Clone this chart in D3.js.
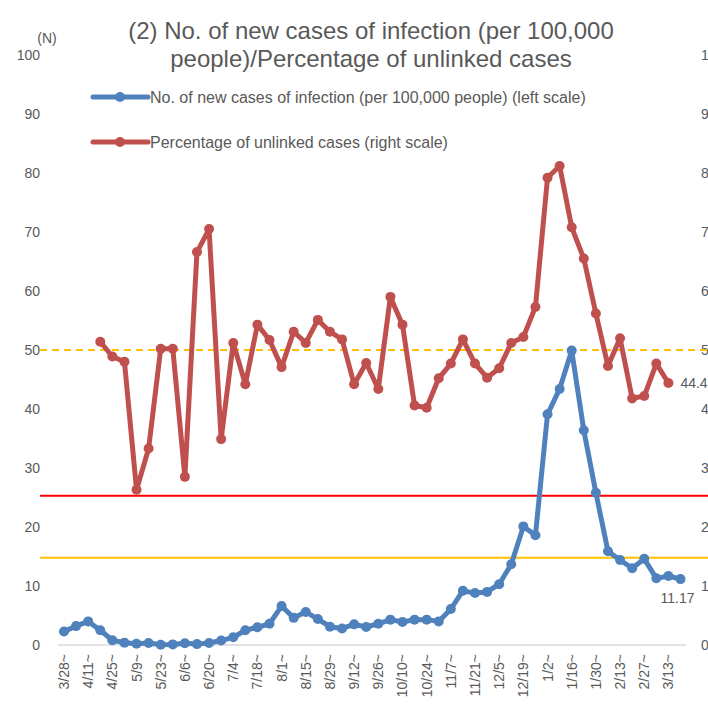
<!DOCTYPE html>
<html>
<head>
<meta charset="utf-8">
<script src="https://cdn.jsdelivr.net/npm/d3@7"></script>
<style>
  body { margin: 0; background: #fff; }
  svg { display: block; }
</style>
</head>
<body>
<div id="chart"></div>
<script>
// weekly periods starting 3/28 (52 weeks)
const weeks = ['3/28', '4/4', '4/11', '4/18', '4/25', '5/2', '5/9', '5/16', '5/23', '5/30',
  '6/6', '6/13', '6/20', '6/27', '7/4', '7/11', '7/18', '7/25', '8/1', '8/8',
  '8/15', '8/22', '8/29', '9/5', '9/12', '9/19', '9/26', '10/3', '10/10', '10/17',
  '10/24', '10/31', '11/7', '11/14', '11/21', '11/28', '12/5', '12/12', '12/19', '12/26',
  '1/2', '1/9', '1/16', '1/23', '1/30', '2/6', '2/13', '2/20', '2/27', '3/6',
  '3/13', '3/20'];

const newCases = [2.3, 3.2, 4.0, 2.5, 0.8, 0.4, 0.2, 0.35, 0.05, 0.1,
  0.3, 0.15, 0.35, 0.75, 1.3, 2.5, 3.0, 3.6, 6.6, 4.6,
  5.6, 4.4, 3.1, 2.8, 3.5, 3.05, 3.6, 4.3, 3.9, 4.3,
  4.3, 4.0, 6.1, 9.2, 8.8, 9.0, 10.3, 13.7, 20.1, 18.6,
  39.1, 43.4, 49.9, 36.4, 25.8, 15.9, 14.4, 13.0, 14.6, 11.3,
  11.7, 11.17];

// unlinked share starts at 4/18 and ends at 3/13
const unlinked = [51.4, 48.9, 48.0, 26.3, 33.3, 50.2, 50.2, 28.5, 66.6, 70.5,
  34.9, 51.2, 44.2, 54.3, 51.7, 47.1, 53.1, 51.2, 55.1, 53.1,
  51.8, 44.2, 47.8, 43.4, 59.0, 54.3, 40.6, 40.2, 45.2, 47.7,
  51.8, 47.7, 45.3, 46.9, 51.2, 52.2, 57.3, 79.2, 81.2, 70.8,
  65.5, 56.2, 47.3, 52.0, 41.8, 42.2, 47.7, 44.4];
const unlinkedStart = 3;

const yTicks = [0, 10, 20, 30, 40, 50, 60, 70, 80, 90, 100];
const refLines = [
  { value: 50, color: '#ffc000', dash: '7,5' },
  { value: 25.3, color: '#ff0000', dash: null },
  { value: 14.8, color: '#ffc000', dash: null },
];

const width = 708;
const height = 720;
const font = "'Liberation Sans', Arial, sans-serif";
const textColor = '#595959';
const blue = '#4f81bd';
const red = '#c0504d';

const x = d3.scaleLinear()
  .domain([0, weeks.length - 1])
  .range([64, 680.5]);
const y = d3.scaleLinear()
  .domain([0, 100])
  .range([645, 55]);

const svg = d3.select('#chart')
  .append('svg')
  .attr('width', width)
  .attr('height', height)
  .attr('font-family', font);

// title
svg.append('text')
  .attr('x', 371)
  .attr('y', 39)
  .attr('text-anchor', 'middle')
  .attr('font-size', 24)
  .attr('fill', textColor)
  .selectAll('tspan')
  .data(['(2) No. of new cases of infection (per 100,000', 'people)/Percentage of unlinked cases'])
  .join('tspan')
  .attr('x', 371)
  .attr('dy', (d, i) => (i === 0 ? 0 : 28))
  .text((d) => d);

svg.append('text')
  .attr('x', 47)
  .attr('y', 43)
  .attr('text-anchor', 'middle')
  .attr('font-size', 14)
  .attr('fill', textColor)
  .text('(N)');

// left axis
svg.append('g')
  .attr('transform', 'translate(40,0)')
  .call(d3.axisLeft(y).tickValues(yTicks).tickSize(0).tickPadding(0))
  .call((g) => g.select('.domain').remove())
  .selectAll('text')
  .attr('font-family', font)
  .attr('font-size', 14)
  .attr('fill', textColor);

// right axis (partly outside the window, as in the source)
svg.append('g')
  .attr('transform', 'translate(701,0)')
  .call(d3.axisRight(y).tickValues(yTicks).tickSize(0).tickPadding(0))
  .call((g) => g.select('.domain').remove())
  .selectAll('text')
  .attr('font-family', font)
  .attr('font-size', 14)
  .attr('fill', textColor);

// baseline
svg.append('line')
  .attr('x1', 58)
  .attr('x2', 686)
  .attr('y1', y(0))
  .attr('y2', y(0))
  .attr('stroke', '#d9d9d9')
  .attr('stroke-width', 1.5);

// x labels every two weeks
svg.append('g')
  .selectAll('text')
  .data(weeks.filter((d, i) => i % 2 === 0))
  .join('text')
  .attr('transform', (d, i) => `translate(${x(i * 2) + 5},654) rotate(-90)`)
  .attr('text-anchor', 'end')
  .attr('font-size', 14)
  .attr('fill', textColor)
  .text((d) => `${d}~`);

// reference lines
svg.append('g')
  .selectAll('line')
  .data(refLines)
  .join('line')
  .attr('x1', 40)
  .attr('x2', width)
  .attr('y1', (d) => y(d.value))
  .attr('y2', (d) => y(d.value))
  .attr('stroke', (d) => d.color)
  .attr('stroke-width', 2)
  .attr('stroke-dasharray', (d) => d.dash);

const line = d3.line()
  .x((d) => x(d.i))
  .y((d) => y(d.v));

const blueData = newCases.map((v, i) => ({ i, v }));
const redData = unlinked.map((v, i) => ({ i: i + unlinkedStart, v }));

function drawSeries(data, color) {
  const g = svg.append('g');
  g.append('path')
    .datum(data)
    .attr('fill', 'none')
    .attr('stroke', color)
    .attr('stroke-width', 5)
    .attr('stroke-linejoin', 'round')
    .attr('d', line);
  g.selectAll('circle')
    .data(data)
    .join('circle')
    .attr('cx', (d) => x(d.i))
    .attr('cy', (d) => y(d.v))
    .attr('r', 5)
    .attr('fill', color);
}

drawSeries(redData, red);
drawSeries(blueData, blue);

// data labels on last points
const lastRed = redData[redData.length - 1];
svg.append('text')
  .attr('x', x(lastRed.i) + 12)
  .attr('y', y(lastRed.v) + 5)
  .attr('font-size', 14)
  .attr('fill', textColor)
  .text(lastRed.v.toFixed(1));

const lastBlue = blueData[blueData.length - 1];
svg.append('text')
  .attr('x', x(lastBlue.i) - 3)
  .attr('y', y(lastBlue.v) + 24)
  .attr('text-anchor', 'middle')
  .attr('font-size', 14)
  .attr('fill', textColor)
  .text(lastBlue.v.toFixed(2));

// legend
const legend = [
  { label: 'No. of new cases of infection (per 100,000 people) (left scale)', color: blue, y: 97 },
  { label: 'Percentage of unlinked cases (right scale)', color: red, y: 142 },
];
const lg = svg.append('g')
  .selectAll('g')
  .data(legend)
  .join('g')
  .attr('transform', (d) => `translate(93,${d.y})`);
lg.append('line')
  .attr('x1', 0)
  .attr('x2', 55)
  .attr('stroke', (d) => d.color)
  .attr('stroke-width', 5)
  .attr('stroke-linecap', 'round');
lg.append('circle')
  .attr('cx', 27)
  .attr('r', 5)
  .attr('fill', (d) => d.color);
lg.append('text')
  .attr('x', 57)
  .attr('dy', '0.35em')
  .attr('font-size', 16)
  .attr('fill', textColor)
  .text((d) => d.label);
</script>
</body>
</html>
